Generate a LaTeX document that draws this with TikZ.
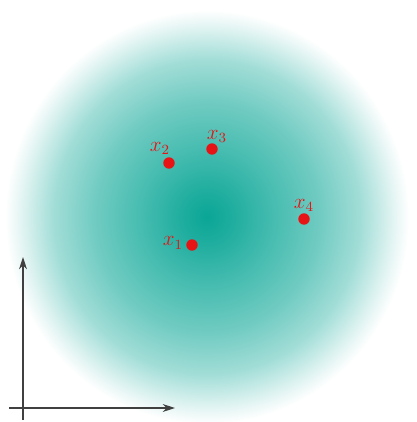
\documentclass[tikz,border=0pt]{standalone}
\usetikzlibrary{arrows.meta}
\definecolor{blobteal}{RGB}{10,166,150}
\definecolor{ptred}{RGB}{230,20,20}
\pgfdeclareradialshading{blob}{\pgfpoint{0bp}{0bp}}{%
  color(0bp)=(blobteal);
  color(3bp)=(blobteal!92!white);
  color(8bp)=(blobteal!76!white);
  color(14bp)=(blobteal!58!white);
  color(19bp)=(blobteal!38!white);
  color(23bp)=(blobteal!12!white);
  color(25bp)=(white);
  color(100bp)=(white)}
\tikzset{
  pt/.style={circle,fill=ptred,inner sep=0pt,minimum size=6.5pt},
  lbl/.style={text=ptred,inner sep=1pt,font=\large},
  axis/.style={draw=black!75,line width=0.6pt,-{Stealth[length=7pt,width=4.5pt]}}
}
\begin{document}
\begin{tikzpicture}[x=0.02cm,y=-0.02cm]
\useasboundingbox (0,0) rectangle (416,422);
\fill[white] (0,0) rectangle (416,422);
\shade[shading=blob] (207,217) circle [x radius=202, y radius=207];
\node[pt] (p1) at (192,245) {};
\node[pt] (p2) at (169,163) {};
\node[pt] (p3) at (212,149) {};
\node[pt] (p4) at (304,219) {};
\node[lbl,anchor=east] (l1) at (185,243) {$x_1$};
\node[lbl,anchor=south east] (l2) at (172,157) {$x_2$};
\node[lbl,anchor=south] (l3) at (217,145) {$x_3$};
\node[lbl,anchor=south] (l4) at (304,214) {$x_4$};
\coordinate (ybot) at (23,420);
\coordinate (ytop) at (23,257);
\coordinate (xleft) at (9,408);
\coordinate (xright) at (175,408);
\draw[axis] (ybot) -- (ytop);
\draw[axis] (xleft) -- (xright);
\end{tikzpicture}
\end{document}
